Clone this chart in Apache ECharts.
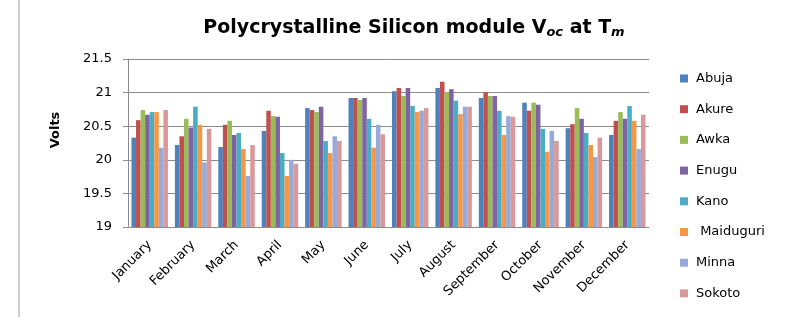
<!DOCTYPE html>
<html>
<head>
<meta charset="utf-8">
<script src="https://cdn.jsdelivr.net/npm/echarts@6/dist/echarts.min.js"></script>
<style>
  html, body { margin: 0; padding: 0; background: #fff; }
  #mainChart { width: 791px; height: 317px; }
</style>
</head>
<body>
<div id="mainChart"></div>
<script>
var months = ["January", "February", "March", "April", "May", "June", "July", "August", "September", "October", "November", "December"];
var cities = ["Abuja", "Akure", "Awka", "Enugu", "Kano", " Maiduguri", "Minna", "Sokoto"];
var colors = ["#4f81bd", "#c0504d", "#9bbb59", "#8064a2", "#4bacc6", "#f79646", "#97abd8", "#d9989a"];

var abuja     = [20.33, 20.22, 20.19, 20.43, 20.77, 20.92, 21.02, 21.07, 20.92, 20.85, 20.47, 20.37];
var akure     = [20.59, 20.35, 20.52, 20.73, 20.74, 20.92, 21.07, 21.16, 21.01, 20.73, 20.53, 20.58];
var awka      = [20.74, 20.61, 20.58, 20.65, 20.71, 20.89, 20.95, 21.01, 20.95, 20.85, 20.77, 20.71];
var enugu     = [20.67, 20.48, 20.37, 20.64, 20.79, 20.92, 21.07, 21.05, 20.95, 20.82, 20.61, 20.61];
var kano      = [20.71, 20.79, 20.40, 20.10, 20.28, 20.61, 20.80, 20.88, 20.73, 20.46, 20.40, 20.80];
var maiduguri = [20.71, 20.52, 20.16, 19.76, 20.10, 20.18, 20.71, 20.68, 20.37, 20.12, 20.22, 20.58];
var minna     = [20.18, 19.96, 19.76, 20.00, 20.35, 20.52, 20.73, 20.79, 20.65, 20.43, 20.04, 20.16];
var sokoto    = [20.74, 20.46, 20.22, 19.94, 20.28, 20.38, 20.77, 20.79, 20.64, 20.28, 20.33, 20.67];

var seriesData = [abuja, akure, awka, enugu, kano, maiduguri, minna, sokoto];

var chart = echarts.init(document.getElementById("mainChart"));
var option = {
  animation: false,
  color: colors,
  textStyle: { fontFamily: "DejaVu Sans" },
  title: {
    text: "{t|Polycrystalline Silicon module V}{s|oc}{t| at T}{s|m}",
    left: 409,
    top: 13,
    textAlign: "center",
    textStyle: {
      rich: {
        t: { fontFamily: "DejaVu Sans", fontWeight: "bold", fontSize: 19, color: "#000" },
        s: { fontFamily: "DejaVu Sans", fontStyle: "italic", fontSize: 13, color: "#000", padding: [8, 0, 0, 0] }
      }
    }
  },
  // left border of the chart box
  graphic: [{
    type: "line",
    shape: { x1: 19, y1: 0, x2: 19, y2: 317 },
    style: { stroke: "#9a9a9a", lineWidth: 1 }
  }],
  legend: {
    orient: "vertical",
    left: 680,
    top: 72,
    padding: 0,
    itemWidth: 8,
    itemHeight: 8,
    itemGap: 17.7,
    icon: "rect",
    textStyle: { fontSize: 13, color: "#000", fontFamily: "DejaVu Sans", padding: [0, 0, 0, 3] },
    data: cities
  },
  grid: { left: 128, right: 142, top: 59, bottom: 90 },
  xAxis: {
    type: "category",
    data: months,
    axisLine: { lineStyle: { color: "#8c8c8c" } },
    axisTick: { show: false },
    axisLabel: { rotate: 45, fontSize: 13, color: "#000", margin: 16, interval: 0 }
  },
  yAxis: {
    type: "value",
    min: 19,
    max: 21.5,
    interval: 0.5,
    name: "Volts",
    nameLocation: "middle",
    nameGap: 66,
    nameTextStyle: { fontWeight: "bold", fontSize: 13, color: "#000", padding: [0, 0, 0, 26] },
    axisLine: { show: true, lineStyle: { color: "#8c8c8c" } },
    axisTick: { show: true, length: 5, lineStyle: { color: "#8c8c8c" } },
    axisLabel: { fontSize: 13, color: "#000", margin: 16 },
    splitLine: { lineStyle: { color: "#8c8c8c" } }
  },
  series: cities.map(function (c, i) {
    return {
      name: c,
      type: "bar",
      data: seriesData[i],
      barGap: "0%",
      barCategoryGap: "16%"
    };
  })
};
chart.setOption(option);
</script>
</body>
</html>
